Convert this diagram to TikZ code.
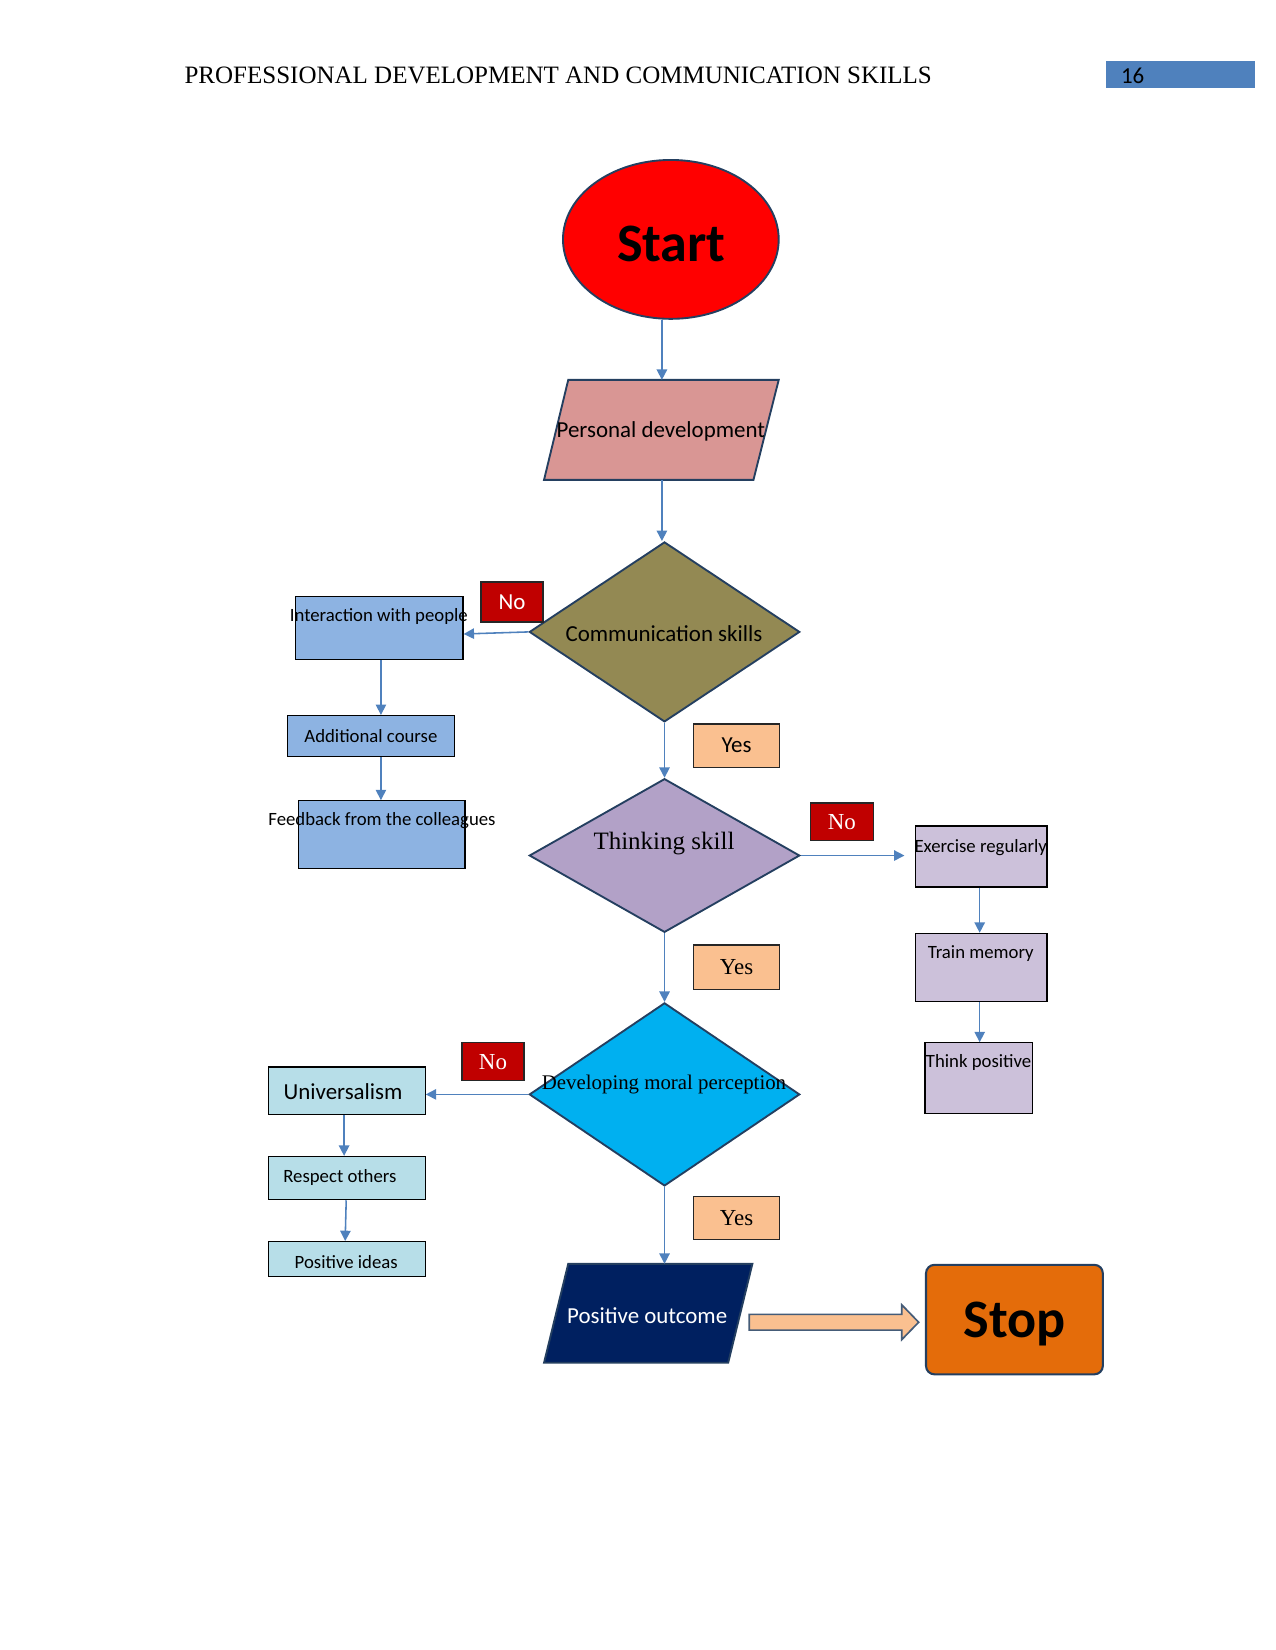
\documentclass[tikz,border=0pt]{standalone}
\usepackage{fontspec}
\setmainfont{Liberation Serif}
\newfontfamily\calfont{Carlito}
\usetikzlibrary{shapes.geometric,arrows.meta}
\definecolor{bord}{HTML}{243F60}
\definecolor{startred}{HTML}{FF0000}
\definecolor{pdpink}{HTML}{D99694}
\definecolor{olivefill}{HTML}{938953}
\definecolor{bluebox}{HTML}{8DB3E2}
\definecolor{labred}{HTML}{C00000}
\definecolor{peach}{HTML}{FAC090}
\definecolor{lavdia}{HTML}{B2A1C7}
\definecolor{lavbox}{HTML}{CCC1DA}
\definecolor{cyanfill}{HTML}{00B0F0}
\definecolor{palebox}{HTML}{B7DEE8}
\definecolor{navyfill}{HTML}{002060}
\definecolor{stoporange}{HTML}{E46C0A}
\definecolor{connblue}{HTML}{4F81BD}
\definecolor{pnblue}{HTML}{4F81BD}
\tikzset{
  sz/.style 2 args={minimum width=#1*0.505pt, minimum height=#2*0.505pt},
  shapeborder/.style={draw=bord, line width=0.9pt, inner sep=0pt},
  box/.style={rectangle, draw=black, line width=0.6pt, inner sep=0pt},
  lab/.style={rectangle, draw=black!85, line width=0.6pt, inner sep=0pt, text=white},
  yeslab/.style={rectangle, draw=black!85, line width=0.6pt, inner sep=0pt, fill=peach},
  conn/.style={draw=connblue, line width=0.75pt, -{Triangle[length=5pt,width=5pt]}},
  cal9/.style={font=\calfont\fontsize{9}{11}\selectfont},
  cal11/.style={font=\calfont\fontsize{11}{13}\selectfont},
  tm11/.style={font=\fontsize{11}{13}\selectfont},
  bigbold/.style={font=\calfont\bfseries\fontsize{26}{30}\selectfont, inner sep=0},
}
\begin{document}
\begin{tikzpicture}[x=0.505pt,y=-0.505pt]
\useasboundingbox (0,0) rectangle (1212,1568);

% header
\node[font=\fontsize{12}{14}\selectfont, anchor=base west, inner sep=0] (hdr) at (175,79) {PROFESSIONAL DEVELOPMENT AND COMMUNICATION SKILLS};
\node[fill=pnblue, sz={142}{26}, inner sep=0] (pnbox) at (1122,71) {};
\node[cal11, anchor=west, inner sep=0] (pn) at (1065,72) {16};

% start
\node[ellipse, shapeborder, fill=startred, sz={205}{151}] (start) at (637.5,227.5) {};
\node[bigbold] (starttxt) at (638,232) {Start};

% personal development (parallelogram)
\filldraw[draw=bord, line width=0.9pt, fill=pdpink] (540,361) -- (740,361) -- (716,456) -- (517,456) -- cycle;
\coordinate (pdtop) at (629,361);
\coordinate (pdbot) at (629,456);
\node[cal11, inner sep=0] (pdtxt) at (628,410) {Personal development};

% communication skills
\node[diamond, shapeborder, fill=olivefill, sz={257}{171}] (comm) at (631.5,600.5) {};
\node[cal11, inner sep=0] (commtxt) at (631,602) {Communication skills};
\node[lab, fill=labred, sz={59}{38}, cal11] (no1) at (486.5,572) {No};
\node[yeslab, sz={82}{41}, cal11] (yes1) at (700,708.5) {Yes};

% left branch 1
\node[box, fill=bluebox, sz={159}{60}] (inter) at (360.5,597) {};
\node[cal9, inner sep=0] (intertxt) at (360,586) {Interaction with people};
\node[box, fill=bluebox, sz={159}{39}, cal9] (add) at (352.5,699.5) {Additional course};
\node[box, fill=bluebox, sz={158}{64}] (feed) at (363,793) {};
\node[cal9, inner sep=0] (feedtxt) at (363,780) {Feedback from the colleagues};

% thinking skill
\node[diamond, shapeborder, fill=lavdia, sz={257}{146}] (think) at (631.5,813) {};
\node[font=\fontsize{12}{14}\selectfont, inner sep=0] (thinktxt) at (631,802) {Thinking skill};
\node[lab, fill=labred, sz={60}{36}, tm11] (no2) at (800,781) {No};
\node[yeslab, sz={82}{42}, tm11] (yes2) at (700,919) {Yes};

% right branch
\node[box, fill=lavbox, sz={125}{58}] (exer) at (932.5,814) {};
\node[cal9, inner sep=0] (exertxt) at (932,805) {Exercise regularly};
\node[box, fill=lavbox, sz={125}{65}] (train) at (932.5,919.5) {};
\node[cal9, inner sep=0] (traintxt) at (932,906) {Train memory};
\node[box, fill=lavbox, sz={102}{67}] (thinkpos) at (930,1024.5) {};
\node[cal9, inner sep=0] (thinkpostxt) at (930,1010) {Think positive};

% developing moral perception
\node[diamond, shapeborder, fill=cyanfill, sz={257}{174}] (moral) at (631.5,1040) {};
\node[font=\fontsize{10}{12}\selectfont, inner sep=0] (moraltxt) at (631,1031) {Developing moral perception};
\node[lab, fill=labred, sz={59}{36}, tm11] (no3) at (468.5,1009) {No};
\node[yeslab, sz={82}{41}, tm11] (yes3) at (700,1157.5) {Yes};

% left branch 2
\node[box, fill=palebox, sz={149}{45}] (univ) at (329.5,1036.5) {};
\node[cal11, inner sep=0] (univtxt) at (326,1037) {Universalism};
\node[box, fill=palebox, sz={149}{41}] (resp) at (329.5,1119.5) {};
\node[cal9, inner sep=0] (resptxt) at (323,1119) {Respect others};
\node[box, fill=palebox, sz={149}{33}] (posid) at (329.5,1196.5) {};
\node[cal9, inner sep=0] (posidtxt) at (329,1199) {Positive ideas};

% positive outcome (parallelogram) and stop
\filldraw[draw=bord, line width=0.9pt, fill=navyfill] (540,1201) -- (715,1201) -- (692,1295) -- (517,1295) -- cycle;
\coordinate (potop) at (631,1201);
\node[cal11, text=white, inner sep=0] (posouttxt) at (615,1250) {Positive outcome};
\node[rectangle, rounded corners=4pt, draw=bord, line width=1pt, fill=stoporange, sz={168}{104}, inner sep=0] (stop) at (964,1254) {};
\node[bigbold] (stoptxt) at (964,1258) {Stop};

% block arrow
\filldraw[draw=bord!85, line width=0.8pt, fill=peach] (712,1249) -- (857,1249) -- (857,1240) -- (873,1256.5) -- (857,1273) -- (857,1264) -- (712,1264) -- cycle;

% connectors
\draw[conn] (pdtop |- start.south) -- (pdtop);
\draw[conn] (pdbot) -- (pdbot |- comm.north);
\draw[conn] (comm.west) -- ([yshift=-1pt]inter.east |- comm.west);
\draw[conn] (inter.south -| 362,0) -- (add.north -| 362,0);
\draw[conn] (add.south -| 362,0) -- (feed.north -| 362,0);
\draw[conn] (comm.south) -- (think.north);
\draw[conn] (think.east) -- ([xshift=-5pt]exer.west |- think.east);
\draw[conn] (exer.south -| 931,0) -- (train.north -| 931,0);
\draw[conn] (train.south -| 931,0) -- (thinkpos.north -| 931,0);
\draw[conn] (think.south) -- (moral.north);
\draw[conn] (moral.west) -- (univ.east |- moral.west);
\draw[conn] (univ.south -| 327,0) -- (resp.north -| 327,0);
\draw[conn] (resp.south -| 329,0) -- (posid.north -| 328,0);
\draw[conn] (moral.south) -- (moral.south |- potop);
\end{tikzpicture}
\end{document}
